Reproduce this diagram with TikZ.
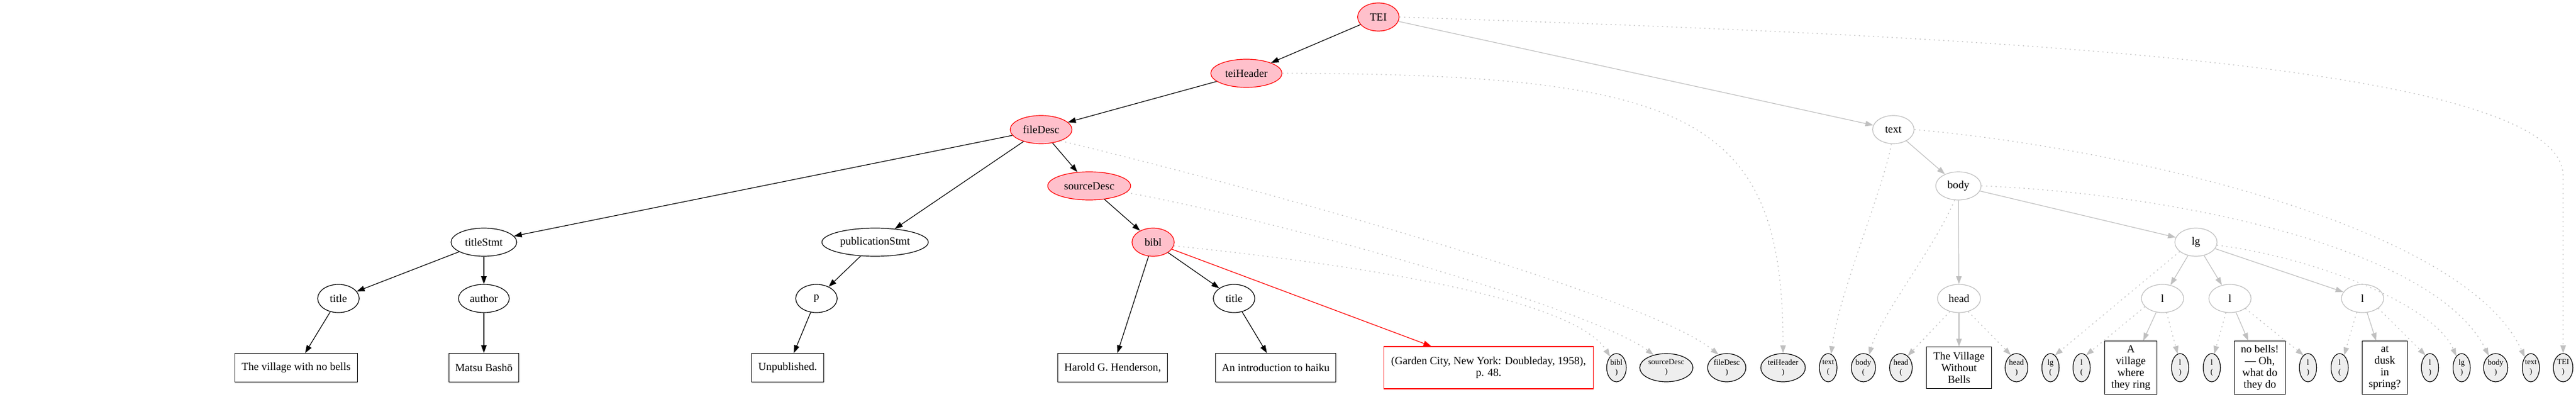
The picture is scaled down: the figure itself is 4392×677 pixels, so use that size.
\documentclass[tikz,border=0pt]{standalone}
\usepackage{fontspec}
\setmainfont{Liberation Serif}
\usetikzlibrary{shapes.geometric,arrows.meta}
\definecolor{pinkc}{HTML}{FFC0CB}
\definecolor{grayc}{HTML}{C0C0C0}
\definecolor{smallfill}{HTML}{EEEEEE}
\tikzset{
  base/.style={font=\fontsize{14}{15}\selectfont, inner sep=0pt, line width=0.9pt},
  pinkell/.style={base, ellipse, draw=red, fill=pinkc, minimum height=36pt},
  blkell/.style={base, ellipse, draw=black, fill=white, minimum height=36pt},
  grayell/.style={base, ellipse, draw=grayc, fill=white, minimum height=36pt},
  txtbox/.style={base, rectangle, draw=black, fill=white, align=center, minimum height=36.5pt},
  redbox/.style={base, rectangle, draw=red, fill=white, align=center},
  smallell/.style={ellipse, draw=black, fill=smallfill, line width=0.9pt, minimum height=36pt, inner sep=0pt},
  smalltxt/.style={font=\fontsize{10}{12}\selectfont, align=center, inner sep=0pt},
  tip/.style={-{Triangle[length=10pt,width=7pt]}},
  blkedge/.style={draw=black, line width=0.9pt, tip},
  rededge/.style={draw=red, line width=0.9pt, tip},
  grayedge/.style={draw=grayc, line width=0.9pt, tip},
  dotedge/.style={draw=grayc, line width=1pt, dash pattern=on 1.5pt off 4.5pt, tip},
}
\newcommand{\smallnode}[4]{%
  \node[smallell, minimum width=#3] (#1) at (#2,627) {};
  \node[smalltxt] (#1-t) at (#1) {#4};
}
\begin{document}
\begin{tikzpicture}[x=0.75pt,y=-0.75pt]
\useasboundingbox (0,0) rectangle (4392,677);

% ---- header (pink) ----
\node[pinkell, minimum width=53pt] (TEI) at (2350,29) {TEI};
\node[pinkell, minimum width=91pt] (teiHeader) at (2125,125) {teiHeader};
\node[pinkell, minimum width=79pt] (fileDesc) at (1775,221) {fileDesc};
\node[pinkell, minimum width=106pt] (sourceDesc) at (1857,317) {sourceDesc};
\node[pinkell, minimum width=54pt] (bibl) at (1966,413) {bibl};

% ---- black ellipses ----
\node[blkell, minimum width=84pt] (titleStmt) at (825,413) {titleStmt};
\node[blkell, minimum width=136pt] (pubStmt) at (1492,413) {publicationStmt};
\node[blkell, minimum width=53pt] (title1) at (577,509) {title};
\node[blkell, minimum width=65pt] (author) at (825,509) {author};
\node[blkell, minimum width=53pt] (p) at (1392,509) {p};
\node[blkell, minimum width=53pt] (title2) at (2104,509) {title};

% ---- text boxes (left) ----
\node[txtbox, minimum width=157pt] (b1) at (505,627) {The village with no bells};
\node[txtbox, minimum width=89pt] (b2) at (825,627) {Matsu Bashō};
\node[txtbox, minimum width=92pt] (b3) at (1343,627) {Unpublished.};
\node[txtbox, minimum width=140pt] (b4) at (1897,627) {Harold G. Henderson,};
\node[txtbox, minimum width=154pt] (b5) at (2175,627) {An introduction to haiku};
\node[redbox, minimum width=268pt, minimum height=54pt] (b6) at (2538,627) {(Garden City, New York: Doubleday, 1958),\\p. 48.};

% ---- gray ellipses (text part) ----
\node[grayell, minimum width=53pt] (text) at (3228,221) {text};
\node[grayell, minimum width=58pt] (body) at (3339,317) {body};
\node[grayell, minimum width=54pt] (lg) at (3744,413) {lg};
\node[grayell, minimum width=55pt] (head) at (3340,509) {head};
\node[grayell, minimum width=54pt] (l1) at (3687,509) {l};
\node[grayell, minimum width=54pt] (l2) at (3802,509) {l};
\node[grayell, minimum width=54pt] (l3) at (4028,509) {l};

% ---- text boxes (right) ----
\node[txtbox, minimum width=83pt, minimum height=53pt] (vwb) at (3340,627) {The Village\\Without\\Bells};
\node[txtbox, minimum width=67pt, minimum height=68pt] (avw) at (3633,627) {A\\village\\where\\they ring};
\node[txtbox, minimum width=65pt, minimum height=68pt] (nob) at (3853,627) {no bells!\\— Oh,\\what do\\they do};
\node[txtbox, minimum width=58pt, minimum height=68pt] (dusk) at (4066,627) {at\\dusk\\in\\spring?};

% ---- small milestone ellipses ----
\smallnode{biblc}{2756}{25pt}{bibl\\)}
\smallnode{sDc}{2841}{68pt}{sourceDesc\\)}
\smallnode{fDc}{2944}{49pt}{fileDesc\\)}
\smallnode{tHc}{3040}{57pt}{teiHeader\\)}
\smallnode{txo}{3117}{22.5pt}{text\\(}
\smallnode{byo}{3177}{31pt}{body\\(}
\smallnode{hdo}{3241}{29pt}{head\\(}
\smallnode{hdc}{3438}{29pt}{head\\)}
\smallnode{lgo}{3496}{22pt}{lg\\(}
\smallnode{lao}{3549}{22pt}{l\\(}
\smallnode{lac}{3717}{22pt}{l\\)}
\smallnode{lbo}{3771}{22pt}{l\\(}
\smallnode{lbc}{3935}{22pt}{l\\)}
\smallnode{lco}{3989}{22pt}{l\\(}
\smallnode{lcc}{4143}{22pt}{l\\)}
\smallnode{lgc}{4197}{22pt}{lg\\)}
\smallnode{byc}{4255}{31pt}{body\\)}
\smallnode{txc}{4315}{22pt}{text\\)}
\smallnode{TEIc}{4370}{25pt}{TEI\\)}

\coordinate (teibend) at (4370,300);

% ---- black edges ----
\draw[blkedge] (TEI) -- (teiHeader);
\draw[blkedge] (teiHeader) -- (fileDesc);
\draw[blkedge] (fileDesc) -- (titleStmt);
\draw[blkedge] (fileDesc) -- (pubStmt);
\draw[blkedge] (fileDesc) -- (sourceDesc);
\draw[blkedge] (sourceDesc) -- (bibl);
\draw[blkedge] (titleStmt) -- (title1);
\draw[blkedge] (titleStmt) -- (author);
\draw[blkedge] (title1) -- (b1);
\draw[blkedge] (author) -- (b2);
\draw[blkedge] (pubStmt) -- (p);
\draw[blkedge] (p) -- (b3);
\draw[blkedge] (bibl) -- (b4);
\draw[blkedge] (bibl) -- (title2);
\draw[blkedge] (title2) -- (b5);
\draw[rededge] (bibl) -- (b6);

% ---- gray solid edges ----
\draw[grayedge] (TEI) -- (text);
\draw[grayedge] (text) -- (body);
\draw[grayedge] (body) -- (head);
\draw[grayedge] (body) -- (lg);
\draw[grayedge] (lg) -- (l1);
\draw[grayedge] (lg) -- (l2);
\draw[grayedge] (lg) -- (l3);
\draw[grayedge] (head) -- (vwb);
\draw[grayedge] (l1) -- (avw);
\draw[grayedge] (l2) -- (nob);
\draw[grayedge] (l3) -- (dusk);

% ---- dotted milestone edges ----
\draw[dotedge] (bibl.-10) .. controls (2400,460) and (2690,520) .. (biblc.120);
\draw[dotedge] (sourceDesc.-10) .. controls (2200,380) and (2720,530) .. (sDc.135);
\draw[dotedge] (fileDesc.-30) .. controls (2100,310) and (2800,500) .. (fDc.122);
\draw[dotedge] (teiHeader.east) .. controls (2887,126) and (3040,200) .. (tHc.north);
\draw[dotedge] (text.262) .. controls (3212,320) and (3135,500) .. (txo.78);
\draw[dotedge] (body.255) .. controls (3300,420) and (3205,540) .. (byo.66);
\draw[dotedge] (head.235) -- (hdo.60);
\draw[dotedge] (head.-55) -- (hdc.114);
\draw[dotedge] (lg.210) -- (lgo.70);
\draw[dotedge] (l1.205) -- (lao.70);
\draw[dotedge] (l1.-74) -- (lac.100);
\draw[dotedge] (l2.254) -- (lbo.80);
\draw[dotedge] (l2.-33) -- (lbc.110);
\draw[dotedge] (l3.247) -- (lco.70);
\draw[dotedge] (l3.-32) -- (lcc.110);
\draw[dotedge] (lg.-8) .. controls (3950,440) and (4150,520) .. (lgc.115);
\draw[dotedge] (body.east) .. controls (3700,330) and (4150,420) .. (byc.120);
\draw[dotedge] (text.east) .. controls (3600,250) and (4200,380) .. (txc.120);
\draw[dotedge] (TEI.east) .. controls (3300,60) and (4370,100) .. (teibend) -- (TEIc.north);
\end{tikzpicture}
\end{document}
